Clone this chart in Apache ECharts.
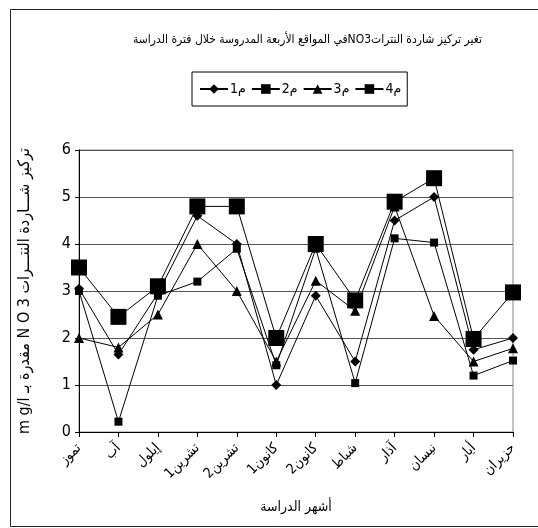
<!DOCTYPE html>
<html>
<head>
<meta charset="utf-8">
<script src="https://cdn.jsdelivr.net/npm/echarts@6/dist/echarts.min.js"></script>
<style>
  html, body { margin: 0; padding: 0; background: #fff; }
  #chart { width: 538px; height: 528px; }
</style>
</head>
<body>
<div id="chart"></div>
<script>
// الأشهر
var months = ['تموز', 'آب', 'إيلول', 'تشرين1', 'تشرين2', 'كانون1', 'كانون2', 'شباط', 'آذار', 'نيسان', 'أيار', 'حزيران'];
// قيم المواقع الأربعة
var site1 = [3.05, 1.65, 2.95, 4.6, 4.0, 1.0, 2.9, 1.5, 4.5, 5.0, 1.75, 2.0];
var site2 = [3.0, 0.22, 2.9, 3.2, 3.9, 1.42, 3.9, 1.04, 4.12, 4.03, 1.2, 1.52];
var site3 = [2.0, 1.8, 2.5, 4.0, 3.0, 1.5, 3.22, 2.58, 4.8, 2.47, 1.5, 1.78];
var site4 = [3.5, 2.45, 3.1, 4.8, 4.8, 2.0, 4.0, 2.8, 4.9, 5.4, 1.98, 2.97];
var siteNames = ['م1', 'م2', 'م3', 'م4'];
var yTicks = [0, 1, 2, 3, 4, 5, 6];

var font = '"DejaVu Sans Condensed", "Liberation Sans Narrow", "DejaVu Sans", sans-serif';

var chart = echarts.init(document.getElementById('chart'));

function line(name, data, symbol, size) {
  return {
    name: name,
    type: 'line',
    data: data,
    symbol: symbol,
    symbolSize: size,
    showAllSymbol: true,
    lineStyle: { color: '#000', width: 1 },
    itemStyle: { color: '#000', borderWidth: 0 },
    emphasis: { disabled: true },
    animation: false
  };
}

chart.setOption({
  animation: false,
  textStyle: { fontFamily: font, color: '#000' },
  title: {
    // مكتوب بترتيب يناسب اتجاه الرسم من اليسار
    text: 'في المواقع الأربعة المدروسة خلال فترة الدراسةNO3تغير تركيز شاردة النترات',
    left: 128,
    top: 29,
    textStyle: { fontSize: 12, fontWeight: 'normal', color: '#000', fontFamily: font }
  },
  legend: {
    data: siteNames,
    top: 72,
    left: 192,
    padding: [10, 6, 10, 7],
    itemGap: 5,
    itemWidth: 28,
    itemHeight: 12,
    borderColor: '#000',
    borderWidth: 1,
    textStyle: { fontSize: 14, color: '#000', fontFamily: font, padding: [0, 0, 0, -3] }
  },
  grid: {
    left: 79, top: 150, width: 434, height: 282,
    show: true, borderColor: '#888', borderWidth: 1
  },
  xAxis: {
    type: 'category',
    data: months,
    boundaryGap: false,
    name: 'أشهر الدراسة',
    nameLocation: 'middle',
    nameGap: 68,
    nameTextStyle: { fontSize: 14, color: '#000', fontFamily: font },
    axisLine: { lineStyle: { color: '#000', width: 1 } },
    axisTick: { show: true, length: 5, alignWithLabel: true, lineStyle: { color: '#000' } },
    axisLabel: { rotate: 45, margin: 14, fontSize: 14, color: '#000', interval: 0, fontFamily: font },
    splitLine: { show: false }
  },
  yAxis: {
    type: 'value',
    min: yTicks[0],
    max: yTicks[yTicks.length - 1],
    interval: 1,
    name: 'm g/l مقدرة بـ N O 3 تركيز شـــاردة النتـــرات',
    nameLocation: 'middle',
    nameGap: 46,
    nameRotate: 90,
    nameTextStyle: { fontSize: 16, color: '#000', fontFamily: font },
    axisLine: { show: true, lineStyle: { color: '#000', width: 1 } },
    axisTick: { show: true, length: 4, lineStyle: { color: '#000' } },
    axisLabel: { fontSize: 16, color: '#000', margin: 8, fontFamily: font },
    splitLine: { show: true, lineStyle: { color: '#555', width: 1 } }
  },
  graphic: [{
    type: 'rect',
    shape: { x: 10.5, y: 9.5, width: 540, height: 517 },
    style: { fill: 'none', stroke: '#222', lineWidth: 1 },
    silent: true
  }],
  series: [
    line(siteNames[0], site1, 'diamond', 10),
    line(siteNames[1], site2, 'rect', 8),
    line(siteNames[2], site3, 'triangle', 10),
    line(siteNames[3], site4, 'rect', 16)
  ]
});
</script>
</body>
</html>
